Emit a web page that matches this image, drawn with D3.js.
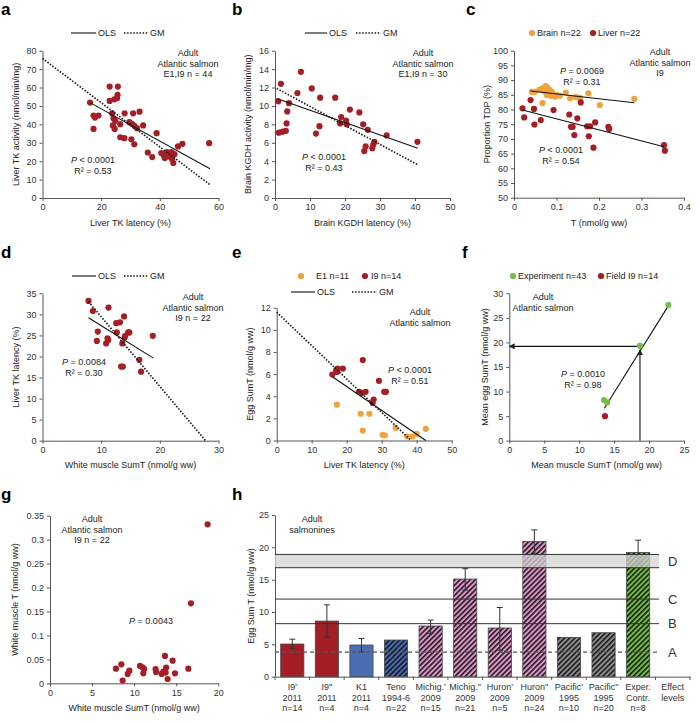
<!DOCTYPE html>
<html><head><meta charset="utf-8">
<script src="https://cdn.jsdelivr.net/npm/d3@7"></script>
<style>
body{margin:0;background:#fff;}
text{font-family:"Liberation Sans",Arial,sans-serif;}
</style></head><body>
<script>
// ---------- DATA ----------
// a: liver TK latency vs activity
const aLatency = [16.2,17.4,17.9,19.1,17.4,22.9,25.7,22.9,24.5,25.6,25.4,23.7,24.2,24.8,24.0,24.6,26.5,28.0,30.9,33.1,29.6,30.5,31.3,32.2,34.3,26.5,27.9,30.3,31.3,38.9,35.9,37.4,40.5,41.4,42.5,44.0,43.1,44.2,44.6,45.0,46.2,47.7,56.8,41.7];
const aActivity = [51.8,44.8,43.7,44.8,37.5,60.5,60.5,52.7,53.6,56.0,54.2,46.0,43.3,41.9,39.4,37.5,40.1,46.0,46.0,46.9,41.2,40.3,39.2,37.9,39.4,33.0,32.5,31.9,29.2,35.2,24.7,22.2,24.4,23.1,24.9,24.9,22.6,21.1,19.0,23.8,28.0,29.4,29.8,21.7];
const aOLS = [[16.2,51.8],[57.1,15.9]];
const aGM = [[0,75.8],[57.1,7.2]];
// b: brain KGDH latency vs activity
const bLatency = [0.95,1.1,2.2,1.7,3.1,3.5,3.3,4.0,6.4,7.4,10.5,11.7,12.9,12.7,17.2,18.9,18.6,20.3,21.4,24.1,25.2,26.5,25.9,25.5,27.8,28.4,28.1,31.9,40.7,20.5];
const bActivity = [10.5,7.1,7.2,12.4,7.3,9.4,8.1,10.3,11.4,13.7,11.9,7.0,10.9,7.8,10.9,8.8,8.1,8.4,9.6,9.3,8.0,7.4,5.6,5.1,5.4,6.1,5.8,6.8,6.1,8.0];
const bOLS = [[0.5,10.8],[40.8,5.4]];
const bGM = [[0.5,11.9],[40.8,3.6]];
// c: T vs proportion TDP
const cBrainT = [0.042,0.049,0.060,0.067,0.075,0.079,0.083,0.071,0.077,0.088,0.097,0.108,0.122,0.132,0.146,0.155,0.175,0.202,0.283,0.067,0.089,0.100];
const cBrainTDP = [86.0,86.0,86.8,87.2,88.0,87.4,86.7,86.2,84.9,84.6,84.4,84.7,85.7,83.8,84.2,84.0,85.5,81.5,83.6,82.2,86.0,85.0];
const cLiverT = [0.020,0.024,0.039,0.047,0.048,0.063,0.093,0.130,0.149,0.157,0.134,0.138,0.142,0.172,0.179,0.191,0.176,0.187,0.222,0.224,0.353,0.355];
const cLiverTDP = [80.4,77.3,83.2,80.2,74.9,76.4,79.8,78.3,77.0,82.4,74.1,74.1,71.3,74.3,74.3,75.6,70.9,67.0,74.1,73.4,67.9,66.0];
const cBrainOLS = [[0.039,86.3],[0.283,82.3]];
const cLiverOLS = [[0.020,79.8],[0.353,67.3]];
// d: white muscle SumT vs liver TK latency
const dSumT = [7.84,8.58,11.25,9.43,9.26,10.85,11.08,11.2,12.56,13.2,13.9,12.67,14.0,13.6,14.6,14.8,13.4,13.7,16.5,16.8,18.8,14.1];
const dLatency = [33.2,30.8,31.6,25.9,23.7,23.1,24.3,23.9,27.9,28.1,29.5,25.7,24.5,23.1,25.7,25.7,17.6,17.6,19.2,16.4,24.9,24.9];
const dOLS = [[7.84,29.2],[18.9,19.6]];
const dGM = [[7.84,33.0],[27.8,0]];
// e: liver TK latency vs egg SumT
const eI9Latency = [15.9,17.0,17.4,17.2,18.9,24.6,23.5,24.3,25.4,29.2,27.7,27.4,30.7,31.2];
const eI9SumT = [5.97,6.36,6.5,6.2,6.5,7.27,4.4,4.3,4.4,5.4,3.7,3.4,4.4,4.4];
const eE1Latency = [17.2,24.0,26.5,24.6,30.3,30.9,34.0,37.3,38.8,40.0,42.6];
const eE1SumT = [3.24,2.42,2.42,0.9,0.5,0.45,1.15,0.36,0.36,0.6,1.06];
const eOLS = [[15.9,5.76],[42.6,0]];
const eGM = [[0,11.6],[38.4,0]];
// f: mean muscle vs mean egg SumT
const fExpMuscle = [13.55,14.0,18.7,22.76];
const fExpEgg = [8.28,7.8,19.3,27.6];
const fFieldMuscle = [13.7];
const fFieldEgg = [5.0];
const fLine = [[13.6,6.6],[23.0,28.0]];
const fArrowH = [[18.7,19.2],[0,19.2]];
const fArrowV = [[18.7,0],[18.7,18.5]];
// g: white muscle SumT vs T
const gSumT = [7.84,8.48,8.63,9.23,9.43,10.69,11.0,11.2,11.09,12.55,12.6,13.27,13.47,13.74,13.8,13.66,13.98,14.57,14.85,16.44,16.75,18.73];
const gT = [0.0306,0.0397,0.0056,0.0195,0.0264,0.0362,0.0334,0.0299,0.0209,0.0299,0.0237,0.0195,0.0244,0.0223,0.0327,0.0571,0.009,0.0473,0.0209,0.0306,0.167,0.332];
// h: egg Sum T by population
const hCats = ["I9'|2011|n=14",'I9"|2011|n=4',"K1|2011|n=4","Teno|1994-6|n=22","Michig.'|2009|n=15",'Michig."|2009|n=21',"Huron'|2009|n=5",'Huron"|2009|n=24',"Pacific'|1995|n=10",'Pacific"|1995|n=20',"Exper.|Contr.|n=8","Effect|levels"];
const hValues = [5.05,8.6,4.9,5.67,7.84,15.1,7.53,20.9,6.08,6.8,19.2,null];
const hErrLow = [4.4,6.1,3.85,null,6.7,13.4,4.1,19.1,null,null,17.3,null];
const hErrHigh = [5.8,11.1,5.9,null,8.75,16.7,10.7,22.7,null,null,21.1,null];
const hFill = ["red","red","blue","blueH","pinkH","pinkH","pinkH","pinkH","greyH","greyH","greenH",null];
const hBand = [16.85,18.9];
const hLevels = [["C",12],["B",8.2],["A",3.8]];
// ---------- DRAWING ----------
const RED='#a41f25', ORANGE='#f0a23c', GREEN='#72bd45', BLUE='#4a6db3', PINK='#df95c9', GREY='#8d8d8d';
const svg=d3.select('body').append('svg').attr('width',700).attr('height',724);
const defs=svg.append('defs');
function hatch(id,color){
  const p=defs.append('pattern').attr('id',id).attr('patternUnits','userSpaceOnUse')
    .attr('width',3.6).attr('height',3.6).attr('patternTransform','rotate(45)');
  p.append('rect').attr('width',3.6).attr('height',3.6).attr('fill',color);
  p.append('line').attr('x1',0.8).attr('y1',0).attr('x2',0.8).attr('y2',3.6).attr('stroke','#111').attr('stroke-width',1.5);
}
hatch('blueH',BLUE);hatch('pinkH',PINK);hatch('greyH',GREY);hatch('greenH',GREEN);
const mk=defs.append('marker').attr('id','arr').attr('viewBox','0 0 10 10').attr('refX',9).attr('refY',5)
  .attr('markerWidth',6).attr('markerHeight',6).attr('orient','auto-start-reverse').attr('markerUnits','userSpaceOnUse');
mk.append('path').attr('d','M0,0L10,5L0,10z').attr('fill','#222');

function styleAxis(g){
  g.select('.domain').attr('stroke','#555');
  g.selectAll('.tick line').attr('stroke','#555');
  g.selectAll('.tick text').attr('font-size',9).attr('fill','#333').style('font-family','"Liberation Sans",Arial,sans-serif');
}
function panel(o){
  const x=d3.scaleLinear().domain(o.xd).range([o.px0,o.px1]);
  const y=d3.scaleLinear().domain(o.yd).range([o.py0,o.py1]);
  const g=svg.append('g');
  g.append('g').attr('transform',`translate(0,${o.py0})`)
    .call(d3.axisBottom(x).tickValues(o.xt).tickSize(3).tickSizeOuter(0).tickPadding(3).tickFormat(o.xf||(d=>d))).call(styleAxis);
  g.append('g').attr('transform',`translate(${o.px0},0)`)
    .call(d3.axisLeft(y).tickValues(o.yt).tickSize(3).tickSizeOuter(0).tickPadding(3).tickFormat(o.yf||(d=>d))).call(styleAxis);
  text(o.xlab,(o.px0+o.px1)/2,o.xlabY,{anchor:'middle'});
  svg.append('text').attr('transform',`translate(${o.ylabX},${(o.py0+o.py1)/2}) rotate(-90)`)
    .attr('text-anchor','middle').attr('font-size',9).attr('fill','#222').text(o.ylab);
  return {g,x,y};
}
function text(t,x,y,opt={}){
  return svg.append('text').attr('x',x).attr('y',y).attr('text-anchor',opt.anchor||'start')
    .attr('font-size',opt.size||9).attr('font-weight',opt.weight||'normal').attr('fill',opt.fill||'#222').text(t);
}
function lines(arr,x,y){arr.forEach((t,i)=>text(t,x,y+i*10.5,{anchor:'middle'}));}
function stat(p,r,x,y){
  const t=svg.append('text').attr('x',x).attr('y',y).attr('text-anchor','middle').attr('font-size',9).attr('fill','#222');
  t.append('tspan').attr('font-style','italic').text('P');
  t.append('tspan').text(p);
  if(r) text(r,x,y+11,{anchor:'middle'});
}
function dots(p,xs,ys,color,r=3.1){
  p.g.append('g').selectAll('circle').data(xs).join('circle')
    .attr('cx',d=>p.x(d)).attr('cy',(d,i)=>p.y(ys[i])).attr('r',r).attr('fill',color);
}
function seg(p,pts,dashed){
  const l=p.g.append('line').attr('x1',p.x(pts[0][0])).attr('y1',p.y(pts[0][1]))
    .attr('x2',p.x(pts[1][0])).attr('y2',p.y(pts[1][1])).attr('stroke','#111')
    .attr('stroke-width',dashed?1.6:1.1);
  if(dashed) l.attr('stroke-dasharray','1.5,1.6');
  return l;
}
function legLine(x1,x2,y,dashed,label){
  const l=svg.append('line').attr('x1',x1).attr('x2',x2).attr('y1',y).attr('y2',y).attr('stroke','#111').attr('stroke-width',dashed?1.6:1.1);
  if(dashed) l.attr('stroke-dasharray','1.5,1.6');
  text(label,x2+2,y+3);
}
function legDot(cx,y,color,label,gap=5){
  svg.append('circle').attr('cx',cx).attr('cy',y).attr('r',3.1).attr('fill',color);
  text(label,cx+gap,y+3);
}
function letter(t,x,y){text(t,x,y,{size:17,weight:'bold',fill:'#000'});}

// ---- a ----
letter('a',1,15);
const pa=panel({xd:[0,60],yd:[0,80],px0:42.5,px1:218.5,py0:198,py1:50.7,xt:[0,20,40,60],yt:d3.range(0,81,10),
  xlab:'Liver TK latency (%)',xlabY:226,ylab:'Liver TK activity (nmol/min/mg)',ylabX:19});
dots(pa,aLatency,aActivity,RED);
seg(pa,aOLS,false);seg(pa,aGM,true);
legLine(71,96,33,false,'OLS');legLine(124,148,33,true,'GM');
lines(['Adult','Atlantic salmon','E1,I9 n = 44'],188,56);
stat(' < 0.0001','R² = 0.53',93,163);

// ---- b ----
letter('b',232,15);
const pb=panel({xd:[0,50],yd:[0,16],px0:275,px1:450,py0:198,py1:50.7,xt:[0,10,20,30,40,50],yt:d3.range(0,17,2),
  xlab:'Brain KGDH latency (%)',xlabY:226,ylab:'Brain KGDH activity (nmol/min/mg)',ylabX:251});
dots(pb,bLatency,bActivity,RED);
seg(pb,bOLS,false);seg(pb,bGM,true);
legLine(305,327,33,false,'OLS');legLine(356,381,33,true,'GM');
lines(['Adult','Atlantic salmon','E1,I9 n = 30'],423,56);
stat(' < 0.0001','R² = 0.43',324,160);

// ---- c ----
letter('c',466,15);
const pc=panel({xd:[0,0.4],yd:[50,100],px0:514,px1:684,py0:197.7,py1:50.7,xt:[0,0.1,0.2,0.3,0.4],yt:d3.range(50,101,5),
  xlab:'T (nmol/g ww)',xlabY:226,ylab:'Proportion TDP (%)',ylabX:490});
dots(pc,cBrainT,cBrainTDP,ORANGE);
dots(pc,cLiverT,cLiverTDP,RED);
seg(pc,cBrainOLS,false);seg(pc,cLiverOLS,false);
legDot(532,33,ORANGE,'Brain n=22');legDot(593,33,RED,'Liver n=22');
lines(['Adult','Atlantic salmon','I9'],660,55);
stat(' = 0.0069','R² = 0.31',582,74);
stat(' < 0.0001','R² = 0.54',561,153);

// ---- d ----
letter('d',1,258);
const pd=panel({xd:[0,30],yd:[0,35],px0:42.5,px1:218.5,py0:440.7,py1:293.3,xt:[0,10,20,30],yt:d3.range(0,36,5),
  xlab:'White muscle SumT (nmol/g ww)',xlabY:468,ylab:'Liver TK latency (%)',ylabX:19});
dots(pd,dSumT,dLatency,RED);
seg(pd,dOLS,false);seg(pd,dGM,true);
legLine(72,96,276,false,'OLS');legLine(124,148,276,true,'GM');
lines(['Adult','Atlantic salmon','I9 n = 22'],193,300);
stat(' = 0.0084','R² = 0.30',84,365);

// ---- e ----
letter('e',232,258);
const pe=panel({xd:[0,50],yd:[0,12],px0:276.7,px1:451.7,py0:440.5,py1:307.8,xt:[0,10,20,30,40,50],yt:d3.range(0,13,2),
  xlab:'Liver TK latency (%)',xlabY:468,ylab:'Egg SumT (nmol/g ww)',ylabX:253});
dots(pe,eE1Latency,eE1SumT,ORANGE);
dots(pe,eI9Latency,eI9SumT,RED);
seg(pe,eOLS,false);seg(pe,eGM,true);
legDot(301,276,ORANGE,'E1 n=11',15);legDot(365,276,RED,'I9 n=14',6);
legLine(291,315,292,false,'OLS');legLine(352,377,292,true,'GM');
lines(['Adult','Atlantic salmon'],420,315);
stat(' < 0.0001','R² = 0.51',410,373);

// ---- f ----
letter('f',462,258);
const pf=panel({xd:[0,25],yd:[0,30],px0:509.3,px1:684,py0:440.7,py1:293.3,xt:[0,5,10,15,20,25],yt:d3.range(0,31,5),
  xlab:'Mean muscle SumT (nmol/g ww)',xlabY:468,ylab:'Mean egg SumT (nmol/g ww)',ylabX:488});
seg(pf,fLine,false);
seg(pf,fArrowH,false).attr('marker-end','url(#arr)');
seg(pf,fArrowV,false).attr('marker-end','url(#arr)');
dots(pf,fExpMuscle,fExpEgg,GREEN);
dots(pf,fFieldMuscle,fFieldEgg,RED);
legDot(513,276,GREEN,'Experiment n=43');legDot(601,276,RED,'Field I9 n=14');
lines(['Adult','Atlantic salmon'],543,300);
stat(' = 0.0010','R² = 0.98',583,377);

// ---- g ----
letter('g',1,500);
const pg=panel({xd:[0,20],yd:[0,0.35],px0:50,px1:218.3,py0:683.3,py1:515.7,xt:[0,5,10,15,20],yt:d3.range(0,8).map(i=>i*0.05),
  yf:d=>d3.format('.2~f')(d),xlab:'White muscle SumT (nmol/g ww)',xlabY:711,ylab:'White muscle T (nmol/g ww)',ylabX:18});
dots(pg,gSumT,gT,RED);
lines(['Adult','Atlantic salmon','I9 n = 22'],92,522);
stat(' = 0.0043',null,151,624);

// ---- h ----
letter('h',232,500);
const hx=d3.scaleBand().domain(hCats).range([275,690]).paddingInner(0.33).paddingOuter(0.165);
const hy=d3.scaleLinear().domain([0,25]).range([676.7,515]);
const gh=svg.append('g');
gh.append('g').attr('transform','translate(275,0)')
  .call(d3.axisLeft(hy).tickValues([0,5,10,15,20,25]).tickSize(3).tickSizeOuter(0).tickPadding(3)).call(styleAxis);
gh.append('g').attr('transform','translate(0,676.7)')
  .call(d3.axisBottom(hx).tickSize(0).tickSizeOuter(0).tickFormat('')).call(styleAxis);
const step=hx.step();
d3.range(hCats.length+1).forEach(i=>{
  gh.append('line').attr('x1',275+i*step).attr('x2',275+i*step).attr('y1',676.7).attr('y2',680).attr('stroke','#555');
});
hCats.forEach(c=>{
  c.split('|').forEach((s,j)=>text(s,hx(c)+hx.bandwidth()/2,690+j*10.5,{anchor:'middle',fill:'#333'}));
});
const colorOf=f=>f==='red'?RED:f==='blue'?BLUE:`url(#${f})`;
hCats.forEach((c,i)=>{
  if(hValues[i]==null) return;
  gh.append('rect').attr('x',hx(c)).attr('width',hx.bandwidth()).attr('y',hy(hValues[i]))
    .attr('height',hy(0)-hy(hValues[i])).attr('fill',colorOf(hFill[i])).attr('stroke','#444').attr('stroke-width',0.8);
});
hCats.forEach((c,i)=>{
  if(hErrLow[i]==null) return;
  const cx=hx(c)+hx.bandwidth()/2;
  gh.append('line').attr('x1',cx).attr('x2',cx).attr('y1',hy(hErrLow[i])).attr('y2',hy(hErrHigh[i])).attr('stroke','#333');
  [hErrLow[i],hErrHigh[i]].forEach(v=>gh.append('line').attr('x1',cx-3).attr('x2',cx+3).attr('y1',hy(v)).attr('y2',hy(v)).attr('stroke','#333'));
});
const lx1=275,lx2=659;
gh.append('rect').attr('x',lx1).attr('width',lx2-lx1).attr('y',hy(hBand[1])).attr('height',hy(hBand[0])-hy(hBand[1]))
  .attr('fill','#d4d4d4').attr('fill-opacity',0.75);
hBand.forEach(v=>gh.append('line').attr('x1',lx1).attr('x2',lx2).attr('y1',hy(v)).attr('y2',hy(v)).attr('stroke','#333').attr('stroke-width',1));
text('D',668,hy((hBand[0]+hBand[1])/2)+4.5,{size:13,fill:'#333'});
hLevels.forEach(([lab,v])=>{
  const l=gh.append('line').attr('x1',lx1).attr('x2',lx2).attr('y1',hy(v)).attr('y2',hy(v)).attr('stroke','#333').attr('stroke-width',1);
  if(lab==='A') l.attr('stroke','#555').attr('stroke-width',1.4).attr('stroke-dasharray','4,3');
  text(lab,668,hy(v)+4.5,{size:13,fill:'#333'});
});
text('Adult',312,522,{anchor:'middle'});
text('salmonines',312,532.5,{anchor:'middle'});
svg.append('text').attr('transform',`translate(254,596) rotate(-90)`).attr('text-anchor','middle').attr('font-size',9).attr('fill','#222').text('Egg Sum T (nmol/g ww)');
</script></body></html>
